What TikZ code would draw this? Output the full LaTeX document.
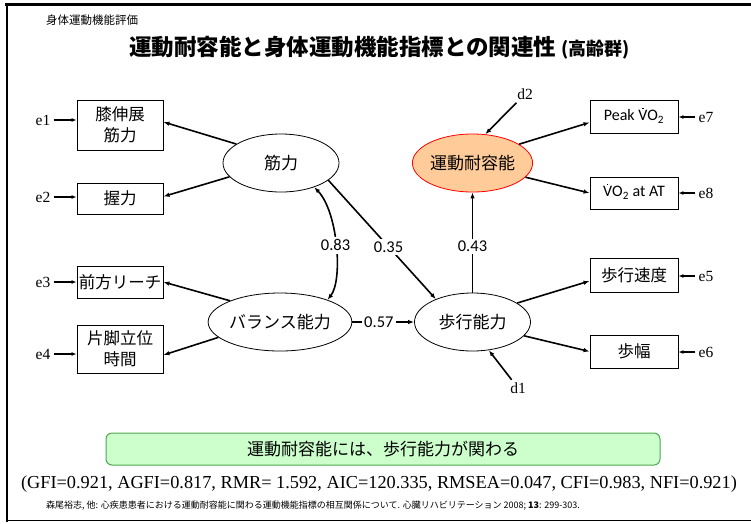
\documentclass[tikz,border=0pt]{standalone}
\usepackage{fontspec}
\setmainfont{Liberation Serif}
\newfontfamily\jpf{Noto Sans CJK JP}
\newfontfamily\calib{Carlito}
\usetikzlibrary{shapes.geometric,arrows.meta}
\definecolor{tolfill}{HTML}{FFCC99}
\definecolor{msgfill}{HTML}{CCFFCC}
\definecolor{msgdraw}{HTML}{4DA64D}
\newcommand\Vd{\ooalign{V\cr\hidewidth\raisebox{0.74em}{\rule{1.4pt}{1.4pt}}\hidewidth\cr}}
\begin{document}
\begin{tikzpicture}[x=1pt,y=-1pt,
  box/.style={draw, line width=0.9pt, minimum width=86pt, inner sep=0pt, align=center, font=\jpf\fontsize{16.5}{21}\selectfont},
  lat/.style={draw, ellipse, line width=0.8pt, minimum width=116pt, minimum height=58pt, inner sep=0pt, font=\jpf\fontsize{17}{20}\selectfont},
  arr/.style={-{Latex[length=6pt,width=4.5pt]}, line width=1.6pt},
  darr/.style={{Latex[length=6pt,width=4.5pt]}-{Latex[length=6pt,width=4.5pt]}, line width=1.6pt},
  sarr/.style={-{Latex[length=5pt,width=4pt]}, line width=1.4pt},
  elab/.style={font=\fontsize{15.5}{18}\selectfont, inner sep=1pt},
  coef/.style={font=\calib\fontsize{16.5}{19}\selectfont, fill=white, inner sep=2.5pt},
]
\useasboundingbox (0,0) rectangle (751,523);
% frame
\draw[line width=2.7pt] (5,4.7) -- (751,4.7);
\draw[line width=2pt] (7,3.4) -- (7,522);
\draw[line width=1.5pt] (6,520.5) -- (751,520.5);

% header and title
\node[anchor=west, inner sep=0pt] (hdr) at (46,20) {\jpf\fontsize{11.5}{14}\selectfont 身体運動機能評価};
\node[anchor=west, inner sep=0pt] (title) at (129,48) {\jpf\bfseries\fontsize{22.5}{26}\selectfont 運動耐容能と身体運動機能指標との関連性 {\fontsize{18}{20}\selectfont (高齢群)}};

% left boxes
\node[box, minimum height=50pt] (b1) at (120,125) {膝伸展\\筋力};
\node[box, minimum height=31pt] (b2) at (120,198.5) {握力};
\node[box, minimum height=32pt] (b3) at (120,282) {前方リーチ};
\node[box, minimum height=48pt] (b4) at (120,349) {片脚立位\\時間};

% right boxes
\node[box, minimum width=88pt, minimum height=33pt, font=\calib\fontsize{16}{18}\selectfont] (pk) at (634,116.5) {Peak \Vd O\textsubscript{2}};
\node[box, minimum width=88pt, minimum height=32pt, font=\calib\fontsize{16}{18}\selectfont] (at) at (634,193) {\Vd O\textsubscript{2} at AT};
\node[box, minimum width=88pt, minimum height=34pt] (ws) at (634,275) {歩行速度};
\node[box, minimum width=88pt, minimum height=33pt] (sl) at (634,351.5) {歩幅};

% latent variables
\node[lat] (kin) at (281,163) {筋力};
\node[lat] (bal) at (280,322) {バランス能力};
\node[lat] (walk) at (472.5,322) {歩行能力};
\node[lat, fill=tolfill, draw=red] (tol) at (472.5,163) {運動耐容能};

% error labels
\node[elab] (e1) at (43,120) {e1};
\node[elab] (e2) at (43,197) {e2};
\node[elab] (e3) at (43,282) {e3};
\node[elab] (e4) at (43,354) {e4};
\node[elab] (e7) at (706,117) {e7};
\node[elab] (e8) at (706,193) {e8};
\node[elab] (e5) at (706,276) {e5};
\node[elab] (e6) at (706,352) {e6};
\node[elab] (d2) at (525,94) {d2};
\node[elab] (d1) at (518,388) {d1};

\foreach \e/\b in {e1/b1,e2/b2,e3/b3,e4/b4}
  \draw[sarr, shorten <=2pt] (\e) -- (\e -| \b.west);
\foreach \e/\b in {e7/pk,e8/at,e5/ws,e6/sl}
  \draw[sarr, shorten <=2pt] (\e) -- (\e -| \b.east);
\draw[arr, shorten <=3pt] (d2) -- (tol.66);
\draw[arr, shorten <=2pt] (d1) -- (walk.-60);

% measurement arrows
\draw[arr] (kin.157) -- ([yshift=3pt]b1.east);
\draw[arr] (kin.195) -- ([yshift=2pt]b2.east);
\draw[arr] (bal.157) -- (b3.east);
\draw[arr] (bal.194) -- ([yshift=-6pt]b4.east);
\draw[arr] (tol.22) -- ([yshift=-6pt]pk.west);
\draw[arr] (tol.-15) -- (at.west);
\draw[arr] (walk.23) -- ([yshift=-6pt]ws.west);
\draw[arr] (walk.-15) -- (sl.west);

% structural paths
\draw[darr] (kin.-36) .. controls (338,212) and (343,280) .. node[coef, pos=0.5] (c83) {0.83} (bal.25);
\draw[arr] (kin.-20) -- node[coef, pos=0.56] (c35) {0.35} (walk.148);
\draw[arr] (walk.north) -- node[coef, pos=0.46] (c43) {0.43} (tol.south);
\draw[arr] (bal.east) -- node[coef, pos=0.43] (c57) {0.57} (walk.west);

% message
\node[draw=msgdraw, fill=msgfill, line width=1pt, rounded corners=6pt, minimum width=554pt, minimum height=32pt, font=\jpf\fontsize{17}{20}\selectfont] (msg) at (383,449) {運動耐容能には、歩行能力が関わる};

\node[inner sep=0pt] (stats) at (379,484) {\fontsize{18.3}{21}\selectfont (GFI=0.921, AGFI=0.817, RMR= 1.592, AIC=120.335, RMSEA=0.047, CFI=0.983, NFI=0.921)};
\node[anchor=west, inner sep=0pt] (cite) at (46,506) {\jpf\fontsize{9}{10}\selectfont 森尾裕志, 他: 心疾患患者における運動耐容能に関わる運動機能指標の相互関係について. 心臓リハビリテーション 2008; \textbf{13}: 299-303.};
\end{tikzpicture}
\end{document}
